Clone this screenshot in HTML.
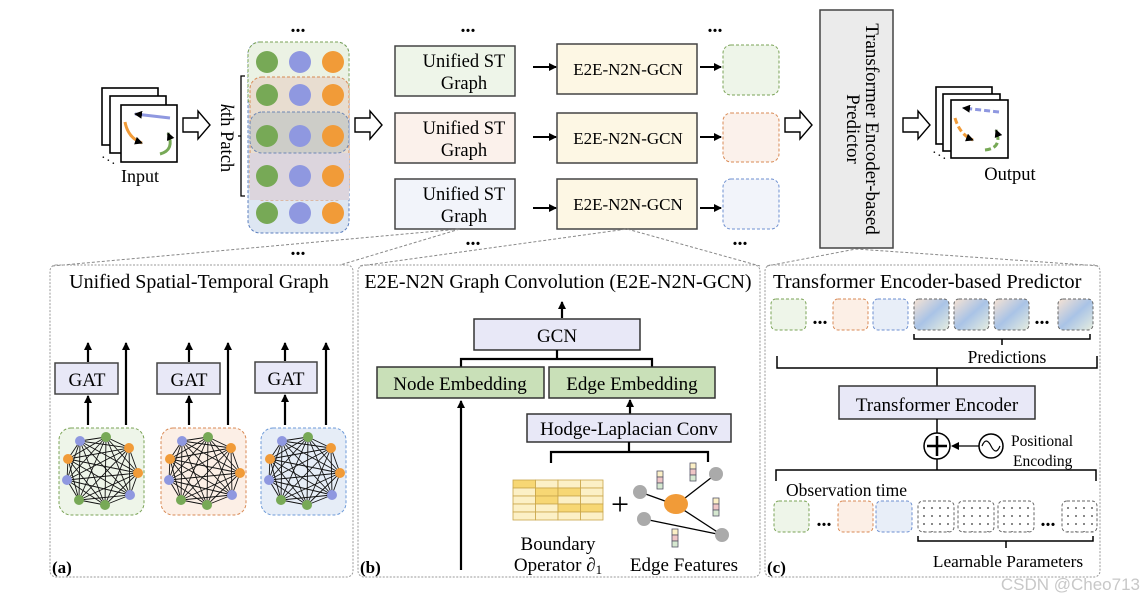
<!DOCTYPE html>
<html><head><meta charset="utf-8"><style>
html,body{margin:0;padding:0;background:#fff;}
svg{display:block;font-family:"Liberation Serif",serif;}
</style></head><body>
<svg id="s" width="1145" height="604" viewBox="0 0 1145 604" xmlns="http://www.w3.org/2000/svg">
<defs>
<marker id="ah" markerWidth="8" markerHeight="8" refX="7" refY="4" orient="auto" markerUnits="userSpaceOnUse"><path d="M0,0 L8,4 L0,8 Z" fill="#000"/></marker>
<linearGradient id="gr" x1="0" y1="0" x2="1" y2="1">
<stop offset="0" stop-color="#f7e3d3"/><stop offset="0.5" stop-color="#a9c3e6"/><stop offset="1" stop-color="#e7eee0"/></linearGradient>
<pattern id="dots" width="8" height="8" patternUnits="userSpaceOnUse"><circle cx="4" cy="4" r="0.9" fill="#333"/></pattern>
</defs>

<!-- Input frames -->
<g stroke="#000" stroke-width="1.6" fill="#fff">
<rect x="102" y="88" width="56" height="57"/><rect x="110" y="96" width="56" height="57"/><rect x="121" y="105" width="56" height="57"/>
</g>
<path d="M170,118 L135,114" stroke="#8f98e0" stroke-width="3" fill="none" marker-end="url(#ah)"/>
<path d="M125,122 Q128,138 142,143" stroke="#f19b38" stroke-width="3" fill="none" marker-end="url(#ah)"/>
<path d="M160,154 Q175,150 168,133" stroke="#77a956" stroke-width="3" fill="none" marker-end="url(#ah)"/>
<text x="101" y="162" font-size="14">·</text><text x="106" y="165" font-size="14">·</text><text x="111" y="168" font-size="14">·</text>
<text x="140" y="182" font-size="18" text-anchor="middle">Input</text>

<!-- hollow arrows -->
<g fill="#fff" stroke="#000" stroke-width="1.4">
<path d="M183,118 h15 v-7 l12,14 l-12,14 v-7 h-15z"/>
<path d="M355,118 h15 v-7 l12,14 l-12,14 v-7 h-15z"/>
<path d="M785,118 h15 v-7 l12,14 l-12,14 v-7 h-15z"/>
<path d="M903,118 h15 v-7 l12,14 l-12,14 v-7 h-15z"/>
</g>

<text transform="translate(221,138) rotate(90)" font-size="18.5" text-anchor="middle"><tspan font-style="italic">k</tspan>th Patch</text>
<path d="M245,76 h-4 v120 h4 M241,136 h-3" stroke="#000" stroke-width="1.3" fill="none"/>

<!-- patch stack -->
<rect x="248" y="42" width="101" height="191" rx="12" fill="#dde6f2" stroke="#5b7fbf" stroke-dasharray="3,2"/>
<rect x="248" y="42" width="101" height="68" rx="12" fill="#ebf2e4" stroke="#7aa356" stroke-dasharray="3,2"/>
<rect x="250" y="77" width="99" height="123" rx="12" fill="#e8ddd0" stroke="#d98a55" stroke-dasharray="3,2"/>
<rect x="250" y="153" width="99" height="47" rx="0" fill="#dcd5dd"/>
<rect x="250" y="112" width="99" height="41" rx="12" fill="#cdcdc8" stroke="#6d86b5" stroke-dasharray="3,2"/>
<g id="circs"></g>
<text x="298" y="32" font-size="20" text-anchor="middle" font-weight="bold">...</text>

<!-- Unified ST graph boxes -->
<g stroke="#444" stroke-width="1.5">
<rect x="395" y="46" width="120" height="50" fill="#eef5e9"/>
<rect x="395" y="113" width="120" height="50" fill="#fbf1eb"/>
<rect x="395" y="179" width="120" height="50" fill="#f2f4fa"/>
<rect x="557" y="44" width="140" height="50" fill="#fdf7e4"/>
<rect x="557" y="113" width="140" height="50" fill="#fdf7e4"/>
<rect x="557" y="179" width="140" height="50" fill="#fdf7e4"/>
</g>
<g font-size="18.5" text-anchor="middle">
<text x="464" y="67">Unified ST</text><text x="464" y="89">Graph</text>
<text x="464" y="134">Unified ST</text><text x="464" y="156">Graph</text>
<text x="464" y="200">Unified ST</text><text x="464" y="222">Graph</text>
</g>
<g font-size="17" text-anchor="middle">
<text x="628" y="75">E2E-N2N-GCN</text><text x="628" y="144">E2E-N2N-GCN</text><text x="628" y="210">E2E-N2N-GCN</text>
</g>
<g stroke="#000" stroke-width="2" marker-end="url(#ah)">
<line x1="533" y1="67" x2="556" y2="67"/><line x1="533" y1="137" x2="556" y2="137"/><line x1="533" y1="208" x2="556" y2="208"/>
<line x1="700" y1="67" x2="721" y2="67"/><line x1="700" y1="137" x2="721" y2="137"/><line x1="700" y1="208" x2="721" y2="208"/>
</g>
<rect x="723" y="45" width="56" height="50" rx="8" fill="#eef5e9" stroke="#7aa356" stroke-dasharray="3,2"/>
<rect x="723" y="113" width="56" height="49" rx="8" fill="#fbf1eb" stroke="#d98a55" stroke-dasharray="3,2"/>
<rect x="723" y="179" width="56" height="50" rx="8" fill="#f2f4fa" stroke="#6d8fd0" stroke-dasharray="3,2"/>
<g font-size="20" font-weight="bold" text-anchor="middle">
<text x="468" y="32">...</text><text x="715" y="32">...</text><text x="298" y="255">...</text><text x="473" y="245">...</text><text x="740" y="245">...</text>
</g>

<rect x="820" y="10" width="73" height="238" fill="#ebebeb" stroke="#444" stroke-width="1.5"/>
<text transform="translate(866,129) rotate(90)" font-size="19" text-anchor="middle">Transformer Encoder-based</text>
<text transform="translate(845,129) rotate(90)" font-size="19" text-anchor="middle" dy="-2">Predictor</text>

<!-- Output frames -->
<g stroke="#000" stroke-width="1.6" fill="#fff">
<rect x="936" y="87" width="56" height="57"/><rect x="943" y="94" width="57" height="57"/><rect x="951" y="100" width="57" height="58"/>
</g>
<path d="M999,112 L963,108" stroke="#8f98e0" stroke-width="3" stroke-dasharray="6,3" fill="none" marker-end="url(#ah)"/>
<path d="M955,118 Q960,135 973,140" stroke="#f19b38" stroke-width="3" stroke-dasharray="6,3" fill="none" marker-end="url(#ah)"/>
<path d="M985,150 Q1003,148 996,130" stroke="#77a956" stroke-width="3" stroke-dasharray="6,3" fill="none" marker-end="url(#ah)"/>
<text x="932" y="157" font-size="14">·</text><text x="937" y="160" font-size="14">·</text><text x="942" y="163" font-size="14">·</text>
<text x="1010" y="180" font-size="18.5" text-anchor="middle">Output</text>

<!-- zoom lines -->
<g stroke="#888" stroke-width="1" stroke-dasharray="3,2" fill="none">
<path d="M52,266 L460,229 L340,265"/>
<path d="M360,266 L627,229 L760,266"/>
<path d="M767,266 L856,249 L1100,266"/>
</g>

<!-- Panels -->
<g fill="none" stroke="#999" stroke-width="1" stroke-dasharray="2,1.5">
<rect x="50" y="265" width="303" height="312" rx="6"/>
<rect x="358" y="265" width="402" height="312" rx="6"/>
<rect x="765" y="265" width="335" height="312" rx="6"/>
</g>

<!-- panel a -->
<text x="199" y="288" font-size="20" text-anchor="middle">Unified Spatial-Temporal Graph</text>
<g stroke="#444" stroke-width="1.5" fill="#e8e8f7">
<rect x="55" y="363" width="63" height="31"/><rect x="157" y="363" width="63" height="31"/><rect x="255" y="362" width="62" height="31"/>
</g>
<g font-size="19" text-anchor="middle"><text x="87" y="386">GAT</text><text x="189" y="386">GAT</text><text x="286" y="385">GAT</text></g>
<g stroke="#000" stroke-width="2.2" marker-end="url(#ah)">
<line x1="88" y1="425" x2="88" y2="396"/><line x1="88" y1="362" x2="88" y2="343"/><line x1="126" y1="425" x2="126" y2="343"/>
<line x1="189" y1="425" x2="189" y2="396"/><line x1="189" y1="362" x2="189" y2="343"/><line x1="228" y1="425" x2="228" y2="343"/>
<line x1="285" y1="425" x2="285" y2="395"/><line x1="285" y1="361" x2="285" y2="343"/><line x1="326" y1="425" x2="326" y2="343"/>
</g>
<rect x="59" y="428" width="85" height="87" rx="12" fill="#eef5e9" stroke="#7aa356" stroke-dasharray="3,2"/>
<rect x="161" y="428" width="85" height="87" rx="12" fill="#fcefe6" stroke="#d98a55" stroke-dasharray="3,2"/>
<rect x="261" y="428" width="85" height="87" rx="12" fill="#e6edf7" stroke="#6d9ad8" stroke-dasharray="3,2"/>
<g id="graphs"></g>
<text x="52" y="573" font-size="17" font-weight="bold">(a)</text>

<!-- panel b -->
<text x="558" y="288" font-size="20" text-anchor="middle">E2E-N2N Graph Convolution (E2E-N2N-GCN)</text>
<line x1="562" y1="318" x2="562" y2="302" stroke="#000" stroke-width="2.2" marker-end="url(#ah)"/>
<rect x="474" y="319" width="166" height="31" fill="#e8e8f7" stroke="#333" stroke-width="1.5"/>
<text x="557" y="342" font-size="19" text-anchor="middle">GCN</text>
<path d="M557,350 V359 M461,367 V359 H652 V367" stroke="#000" stroke-width="2.2" fill="none"/>
<rect x="377" y="367" width="167" height="31" fill="#c9e0b8" stroke="#333" stroke-width="1.5"/>
<rect x="549" y="367" width="166" height="31" fill="#c9e0b8" stroke="#333" stroke-width="1.5"/>
<text x="460" y="390" font-size="19" text-anchor="middle">Node Embedding</text>
<text x="632" y="390" font-size="19" text-anchor="middle">Edge Embedding</text>
<line x1="630" y1="414" x2="630" y2="400" stroke="#000" stroke-width="2.2" marker-end="url(#ah)"/>
<rect x="527" y="414" width="204" height="28" fill="#e8e8f7" stroke="#333" stroke-width="1.5"/>
<text x="629" y="435" font-size="19" text-anchor="middle">Hodge-Laplacian Conv</text>
<path d="M629,442 V452 M551,463 V452 H708 V462" stroke="#000" stroke-width="2.2" fill="none"/>
<line x1="461" y1="570" x2="461" y2="401" stroke="#000" stroke-width="2.2" marker-end="url(#ah)"/>
<g id="matrix"></g>
<text x="620" y="515" font-size="32" text-anchor="middle">+</text>
<g stroke="#000" stroke-width="1.3">
<line x1="640" y1="492" x2="676" y2="505"/><line x1="716" y1="474" x2="676" y2="505"/><line x1="676" y1="505" x2="722" y2="535"/><line x1="644" y1="519" x2="722" y2="535"/>
</g>
<g fill="#aaa"><circle cx="640" cy="492" r="7"/><circle cx="716" cy="474" r="7"/><circle cx="644" cy="519" r="7"/><circle cx="722" cy="535" r="7"/></g>
<ellipse cx="676" cy="504" rx="12" ry="10" fill="#f19b38"/>
<g id="bars"></g>
<text x="558" y="550" font-size="19" text-anchor="middle">Boundary</text>
<text x="558" y="571" font-size="19" text-anchor="middle">Operator <tspan font-style="italic">∂</tspan><tspan font-size="13" dy="3">1</tspan></text>
<text x="684" y="571" font-size="19" text-anchor="middle">Edge Features</text>
<text x="360" y="573" font-size="17" font-weight="bold">(b)</text>

<!-- panel c -->
<text x="773" y="288" font-size="20.5">Transformer Encoder-based Predictor</text>
<g stroke-dasharray="3,2" stroke-width="1">
<rect x="771" y="299" width="35" height="31" rx="5" fill="#eef5e9" stroke="#7aa356"/>
<rect x="833" y="299" width="35" height="31" rx="5" fill="#fcefe6" stroke="#d98a55"/>
<rect x="873" y="299" width="35" height="31" rx="5" fill="#e8eef8" stroke="#6d8fd0"/>
<rect x="914" y="299" width="35" height="31" rx="5" fill="url(#gr)" stroke="#666"/>
<rect x="954" y="299" width="35" height="31" rx="5" fill="url(#gr)" stroke="#666"/>
<rect x="994" y="299" width="35" height="31" rx="5" fill="url(#gr)" stroke="#666"/>
<rect x="1058" y="299" width="35" height="31" rx="5" fill="url(#gr)" stroke="#666"/>
<rect x="774" y="501" width="35" height="31" rx="5" fill="#eef5e9" stroke="#7aa356"/>
<rect x="838" y="501" width="35" height="31" rx="5" fill="#fcefe6" stroke="#d98a55"/>
<rect x="876" y="501" width="36" height="31" rx="5" fill="#e8eef8" stroke="#6d8fd0"/>
<rect x="918" y="501" width="36" height="31" rx="5" fill="url(#dots)" stroke="#666"/>
<rect x="958" y="501" width="36" height="31" rx="5" fill="url(#dots)" stroke="#666"/>
<rect x="998" y="501" width="36" height="31" rx="5" fill="url(#dots)" stroke="#666"/>
<rect x="1062" y="501" width="35" height="31" rx="5" fill="url(#dots)" stroke="#666"/>
</g>
<g font-size="20" font-weight="bold" text-anchor="middle">
<text x="820" y="324">...</text><text x="1042" y="324">...</text><text x="824" y="526">...</text><text x="1048" y="526">...</text></g>
<path d="M914,334 V339 H1090 V334 M1002,339 V345" stroke="#000" stroke-width="1.5" fill="none"/>
<text x="1007" y="363" font-size="17.5" text-anchor="middle">Predictions</text>
<path d="M777,356 V368 H1097 V356 M937,368 V386" stroke="#000" stroke-width="1.5" fill="none"/>
<rect x="839" y="386" width="196" height="33" fill="#e8e8f7" stroke="#333" stroke-width="1.5"/>
<text x="937" y="411" font-size="19" text-anchor="middle">Transformer Encoder</text>
<path d="M937,419 V433 M937,459 V470 M776,481 V470 H1096 V481" stroke="#000" stroke-width="1.5" fill="none"/>
<circle cx="937" cy="446" r="13" fill="#fff" stroke="#000" stroke-width="1.5"/>
<path d="M927,446 H947 M937,436 V456" stroke="#000" stroke-width="2.5"/>
<circle cx="991" cy="446" r="12" fill="#fff" stroke="#000" stroke-width="1.5"/>
<path d="M982,446 Q986,436 991,446 Q996,456 1000,446" stroke="#000" stroke-width="1.2" fill="none"/>
<line x1="979" y1="446" x2="952" y2="446" stroke="#000" stroke-width="1.3" marker-end="url(#ah)"/>
<text x="1011" y="446" font-size="15.5">Positional</text>
<text x="1013" y="466" font-size="15.5">Encoding</text>
<text x="786" y="496" font-size="17.5">Observation time</text>
<path d="M918,536 V541 H1093 V536 M1006,541 V548" stroke="#000" stroke-width="1.5" fill="none"/>
<text x="1008" y="567" font-size="17.3" text-anchor="middle">Learnable Parameters</text>
<text x="767" y="573" font-size="17" font-weight="bold">(c)</text>

<text x="1140" y="590" font-family="Liberation Sans, sans-serif" font-size="17" fill="#c8c8c8" text-anchor="end">CSDN @Cheo713</text>
</svg>
<script>
var NS="http://www.w3.org/2000/svg";
function el(p,t,a){var e=document.createElementNS(NS,t);for(var k in a)e.setAttribute(k,a[k]);p.appendChild(e);return e;}
var c=document.getElementById('circs');
[62,95,136,176,213].forEach(function(y){[["#77a956",267],["#8f98e0",300],["#f19b38",333]].forEach(function(p){el(c,'circle',{cx:p[1],cy:y,r:11,fill:p[0]});});});
var g=document.getElementById('graphs');
var pts=[[20,16,'#8f98e0'],[46,12,'#77a956'],[69,23,'#f19b38'],[8,34,'#f19b38'],[7,55,'#8f98e0'],[78,48,'#f19b38'],[19,75,'#77a956'],[45,80,'#77a956'],[70,70,'#8f98e0']];
[60,162,262].forEach(function(ox){var oy=425;
for(var i=0;i<pts.length;i++)for(var j=i+1;j<pts.length;j++)el(g,'line',{x1:ox+pts[i][0],y1:oy+pts[i][1],x2:ox+pts[j][0],y2:oy+pts[j][1],stroke:'#111','stroke-width':0.9});
pts.forEach(function(p){el(g,'circle',{cx:ox+p[0],cy:oy+p[1],r:5,fill:p[2]});});});
var m=document.getElementById('matrix');
var dark={'0,0':1,'1,1':1,'1,2':1,'2,1':1,'3,3':1,'3,2':1};
for(var r=0;r<5;r++)for(var q=0;q<4;q++)el(m,'rect',{x:513+q*22.5,y:480+r*8,width:22.5,height:8,fill:dark[r+','+q]?'#f7d774':'#fcf0c6',stroke:'#c9a64a','stroke-width':0.8});
var b=document.getElementById('bars');
[[657,471],[690,463],[713,498],[672,529]].forEach(function(p){['#fcf0c6','#efc6c6','#d6e8d0'].forEach(function(f,i){el(b,'rect',{x:p[0],y:p[1]+i*6,width:6,height:6,fill:f,stroke:'#556','stroke-width':0.8});});});
</script>
</body></html>
